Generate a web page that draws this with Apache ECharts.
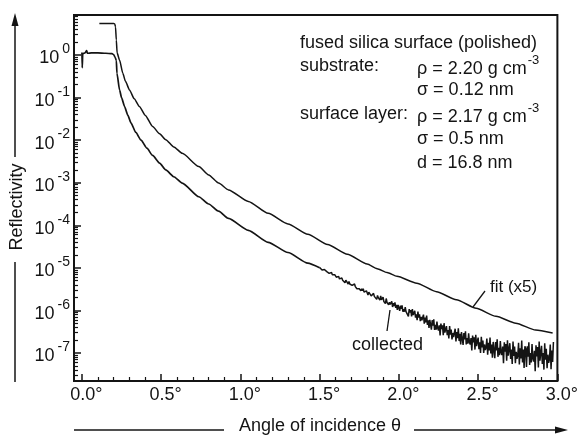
<!DOCTYPE html>
<html>
<head>
<meta charset="utf-8">
<script src="https://cdn.jsdelivr.net/npm/echarts@6/dist/echarts.min.js"></script>
<style>
  html, body { margin: 0; padding: 0; background: #fff; }
  #chart { width: 581px; height: 435px; }
</style>
</head>
<body>
<div id="chart"></div>
<script>
// reflectivity values are kept as log10(R)
var fitAngle = [0.11, 0.20, 0.207, 0.212, 0.217, 0.222, 0.2375, 0.258, 0.275, 0.30, 0.33, 0.3625, 0.40, 0.446,
    0.49, 0.529, 0.58, 0.633, 0.7375, 0.80, 0.8625, 0.925, 1.05, 1.175, 1.30, 1.425, 1.55, 1.675, 1.80, 1.8625,
    1.925, 1.9875, 2.1125, 2.2375, 2.3625, 2.4875, 2.6125, 2.7375, 2.8625, 2.97];
var fitLog = [0.74, 0.74, 0.73, 0.66, 0.35, 0.05, -0.12, -0.43, -0.62, -0.82, -1.03, -1.21, -1.42, -1.68,
    -1.85, -1.99, -2.16, -2.31, -2.62, -2.82, -3.01, -3.17, -3.44, -3.72, -3.97, -4.21, -4.45, -4.68, -4.91, -5.02,
    -5.11, -5.20, -5.36, -5.56, -5.75, -5.95, -6.14, -6.30, -6.46, -6.53];

var collectedAngle = [0.000, 0.002, 0.005, 0.02, 0.03, 0.035, 0.06, 0.10, 0.15, 0.19, 0.20, 0.21, 0.217, 0.221,
    0.2375, 0.25, 0.269, 0.29, 0.31, 0.34, 0.373, 0.41, 0.446, 0.49, 0.529, 0.58, 0.633, 0.7375, 0.80, 0.8625,
    0.925, 1.05, 1.175, 1.30, 1.425, 1.50];
var collectedLog = [0.06, -0.30, 0.03, 0.05, 0.10, 0.04, 0.05, 0.05, 0.04, 0.03, 0.01, -0.06, -0.13, -0.43,
    -0.82, -1.00, -1.21, -1.42, -1.60, -1.82, -2.00, -2.19, -2.36, -2.54, -2.70, -2.86, -3.01, -3.33, -3.50, -3.67,
    -3.84, -4.12, -4.40, -4.64, -4.89, -5.00];

// noisy tail of the measurement, scanned in fixed steps
var tailStart = 1.50;
var tailStep = 0.005;
var collectedTail = [
    -4.99, -5.02, -5.01, -5.05, -5.02, -5.05, -5.04, -5.08, -5.07, -5.09,
    -5.10, -5.08, -5.13, -5.11, -5.14, -5.11, -5.16, -5.15, -5.19, -5.16,
    -5.17, -5.22, -5.18, -5.22, -5.20, -5.26, -5.24, -5.28, -5.24, -5.29,
    -5.31, -5.29, -5.35, -5.29, -5.33, -5.31, -5.38, -5.32, -5.38, -5.36,
    -5.35, -5.41, -5.39, -5.45, -5.38, -5.44, -5.42, -5.49, -5.46, -5.49,
    -5.49, -5.45, -5.54, -5.49, -5.54, -5.49, -5.57, -5.54, -5.61, -5.54,
    -5.56, -5.64, -5.57, -5.61, -5.57, -5.66, -5.62, -5.67, -5.60, -5.67,
    -5.69, -5.65, -5.74, -5.65, -5.70, -5.67, -5.76, -5.66, -5.75, -5.72,
    -5.69, -5.79, -5.75, -5.84, -5.72, -5.81, -5.77, -5.87, -5.81, -5.86,
    -5.86, -5.79, -5.92, -5.83, -5.90, -5.81, -5.94, -5.87, -5.99, -5.87,
    -5.89, -6.01, -5.89, -5.96, -5.88, -6.03, -5.97, -6.03, -5.92, -6.03,
    -6.06, -5.99, -6.14, -5.97, -6.05, -5.99, -6.14, -5.97, -6.11, -6.06,
    -6.01, -6.17, -6.09, -6.23, -6.03, -6.17, -6.09, -6.25, -6.15, -6.23,
    -6.20, -6.10, -6.31, -6.17, -6.28, -6.12, -6.34, -6.23, -6.41, -6.22,
    -6.24, -6.45, -6.23, -6.36, -6.21, -6.46, -6.34, -6.45, -6.26, -6.42,
    -6.47, -6.35, -6.59, -6.31, -6.44, -6.35, -6.58, -6.30, -6.52, -6.44,
    -6.37, -6.58, -6.46, -6.66, -6.37, -6.57, -6.45, -6.68, -6.53, -6.63,
    -6.59, -6.43, -6.73, -6.51, -6.65, -6.42, -6.72, -6.55, -6.80, -6.51,
    -6.55, -6.81, -6.53, -6.68, -6.49, -6.80, -6.65, -6.78, -6.54, -6.75,
    -6.80, -6.65, -6.94, -6.59, -6.75, -6.63, -6.92, -6.57, -6.84, -6.73,
    -6.64, -6.91, -6.75, -7.00, -6.62, -6.87, -6.71, -7.00, -6.80, -6.93,
    -6.87, -6.66, -7.04, -6.76, -6.94, -6.64, -7.01, -6.80, -7.11, -6.74,
    -6.78, -7.12, -6.74, -6.94, -6.68, -7.09, -6.88, -7.05, -6.72, -6.99,
    -7.05, -6.85, -7.24, -6.75, -6.97, -6.79, -7.18, -6.70, -7.06, -6.91,
    -6.77, -7.14, -6.92, -7.26, -6.73, -7.07, -6.85, -7.24, -6.97, -7.14,
    -7.06, -6.76, -7.27, -6.89, -7.13, -6.71, -7.22, -6.92, -7.35, -6.84,
    -6.90, -7.33, -6.84, -7.09, -6.75, -7.28, -7.00, -7.22, -6.79, -7.13,
    -7.20, -6.95, -7.43, -6.82, -7.08, -6.86, -7.34, -6.73, -7.18, -6.99,
    -6.83, -7.26, -7.00, -7.39, -6.77, -7.16, -6.90, -7.36, -7.04, -7.23,
    -7.14, -6.80, -7.38, -6.94, -7.21, -6.74
];

var xMajor = [0, 0.5, 1.0, 1.5, 2.0, 2.5, 3.0];
var xMinor = [0.1, 0.2, 0.3, 0.4, 0.6, 0.7, 0.8, 0.9, 1.1, 1.2, 1.3, 1.4, 1.6, 1.7, 1.8, 1.9,
    2.1, 2.2, 2.3, 2.4, 2.6, 2.7, 2.8, 2.9];
var yMajor = [-7, -6, -5, -4, -3, -2, -1, 0];

var font = 'Liberation Sans, Arial, sans-serif';
var ink = '#141414';

var yMinor = [];
for (var n = -8; n <= 0; n++) {
    for (var k = 2; k <= 9; k++) yMinor.push(n + Math.log10(k));
}

var fitData = fitAngle.map(function (a, i) { return [a, fitLog[i]]; });
var collectedData = collectedAngle.map(function (a, i) { return [a, collectedLog[i]]; });
var tailData = collectedTail.map(function (v, i) {
    return [+(tailStart + i * tailStep).toFixed(3), v];
});

var chart = echarts.init(document.getElementById('chart'));

var supRich = {
    a: { font: '18px ' + font, fill: ink, verticalAlign: 'bottom', padding: [6, 0, 0, 0] },
    s: { font: '13px ' + font, fill: ink, verticalAlign: 'top', padding: [0, 0, 0, 1] }
};

chart.setOption({
    animation: false,
    textStyle: { fontFamily: font, color: ink },
    grid: {
        left: 74, right: 18, top: 15, bottom: 54,
        show: true, borderColor: ink, borderWidth: 2, backgroundColor: 'transparent'
    },
    xAxis: [{
        type: 'value', min: -0.05, max: 3.0, position: 'bottom',
        axisLine: { show: false, onZero: false },
        splitLine: { show: false },
        axisTick: { inside: true, length: 7, customValues: xMajor, lineStyle: { color: ink, width: 1.5 } },
        axisLabel: {
            customValues: xMajor, margin: 5, fontSize: 18, color: ink, fontFamily: font,
            padding: [0, 0, 0, 9],
            formatter: function (v) { return v.toFixed(1) + '°'; }
        }
    }, {
        type: 'value', min: -0.05, max: 3.0, position: 'bottom',
        axisLine: { show: false, onZero: false },
        splitLine: { show: false },
        axisTick: { inside: true, length: 4, customValues: xMinor, lineStyle: { color: ink, width: 1.2 } },
        axisLabel: { show: false }
    }],
    yAxis: [{
        type: 'value', min: -7.658, max: 0.939, position: 'left',
        axisLine: { show: false, onZero: false },
        splitLine: { show: false },
        axisTick: { inside: true, length: 7, customValues: yMajor, lineStyle: { color: ink, width: 1.5 } },
        axisLabel: {
            customValues: yMajor, margin: 4, color: ink,
            formatter: function (v) { return '{b|10}{e|' + Math.round(v) + '}'; },
            rich: {
                b: { fontSize: 18, fontFamily: font, color: ink, verticalAlign: 'bottom', padding: [7, 0, 0, 0] },
                e: { fontSize: 14, fontFamily: font, color: ink, verticalAlign: 'top', padding: [0, 0, 0, 3] }
            }
        }
    }, {
        type: 'value', min: -7.658, max: 0.939, position: 'left',
        axisLine: { show: false, onZero: false },
        splitLine: { show: false },
        axisTick: { inside: true, length: 4, customValues: yMinor, lineStyle: { color: ink, width: 1.2 } },
        axisLabel: { show: false }
    }],
    series: [{
        name: 'fit (x5)', type: 'line', data: fitData, showSymbol: false,
        smooth: 0.2, smoothMonotone: 'x',
        lineStyle: { color: ink, width: 1.5 }
    }, {
        name: 'collected', type: 'line', data: collectedData, showSymbol: false,
        smooth: 0.2, smoothMonotone: 'x',
        lineStyle: { color: ink, width: 1.7 }
    }, {
        name: 'collected tail', type: 'line', data: tailData, showSymbol: false,
        lineStyle: { color: ink, width: 1.5 }
    }],
    graphic: [
        // y axis title with arrow
        { type: 'text', x: 17, y: 207, rotation: Math.PI / 2,
          style: { text: 'Reflectivity', font: '18px ' + font, fill: ink, align: 'center', verticalAlign: 'middle' } },
        { type: 'line', shape: { x1: 15, y1: 157, x2: 15, y2: 24 }, style: { stroke: ink, lineWidth: 1.5 } },
        { type: 'polygon', shape: { points: [[15, 13], [11.5, 26], [18.5, 26]] }, style: { fill: ink } },
        { type: 'line', shape: { x1: 15, y1: 262, x2: 15, y2: 382 }, style: { stroke: ink, lineWidth: 1.5 } },
        // x axis title with arrow
        { type: 'text', x: 320, y: 426,
          style: { text: 'Angle of incidence θ', font: '18px ' + font, fill: ink, align: 'center', verticalAlign: 'middle' } },
        { type: 'line', shape: { x1: 74, y1: 430, x2: 224, y2: 430 }, style: { stroke: ink, lineWidth: 1.5 } },
        { type: 'line', shape: { x1: 414, y1: 430, x2: 558, y2: 430 }, style: { stroke: ink, lineWidth: 1.5 } },
        { type: 'polygon', shape: { points: [[568, 430], [555, 426.5], [555, 433.5]] }, style: { fill: ink } },
        // sample description
        { type: 'text', x: 300, y: 43,
          style: { text: 'fused silica surface (polished)', font: '18px ' + font, fill: ink, verticalAlign: 'middle' } },
        { type: 'text', x: 300, y: 66,
          style: { text: 'substrate:', font: '18px ' + font, fill: ink, verticalAlign: 'middle' } },
        { type: 'text', x: 417, y: 66,
          style: { text: '{a|ρ = 2.20 g cm}{s|-3}', verticalAlign: 'middle', rich: supRich } },
        { type: 'text', x: 417, y: 90,
          style: { text: 'σ = 0.12 nm', font: '18px ' + font, fill: ink, verticalAlign: 'middle' } },
        { type: 'text', x: 300, y: 114,
          style: { text: 'surface layer:', font: '18px ' + font, fill: ink, verticalAlign: 'middle' } },
        { type: 'text', x: 417, y: 114,
          style: { text: '{a|ρ = 2.17 g cm}{s|-3}', verticalAlign: 'middle', rich: supRich } },
        { type: 'text', x: 417, y: 139,
          style: { text: 'σ = 0.5 nm', font: '18px ' + font, fill: ink, verticalAlign: 'middle' } },
        { type: 'text', x: 417, y: 163,
          style: { text: 'd = 16.8 nm', font: '18px ' + font, fill: ink, verticalAlign: 'middle' } },
        // curve labels
        { type: 'text', x: 490, y: 287,
          style: { text: 'fit (x5)', font: '17px ' + font, fill: ink, verticalAlign: 'middle' } },
        { type: 'line', shape: { x1: 485, y1: 291, x2: 473, y2: 307 }, style: { stroke: ink, lineWidth: 1.3 } },
        { type: 'text', x: 352, y: 345,
          style: { text: 'collected', font: '18px ' + font, fill: ink, verticalAlign: 'middle' } },
        { type: 'line', shape: { x1: 390, y1: 310, x2: 387, y2: 331 }, style: { stroke: ink, lineWidth: 1.3 } }
    ]
});
</script>
</body>
</html>
